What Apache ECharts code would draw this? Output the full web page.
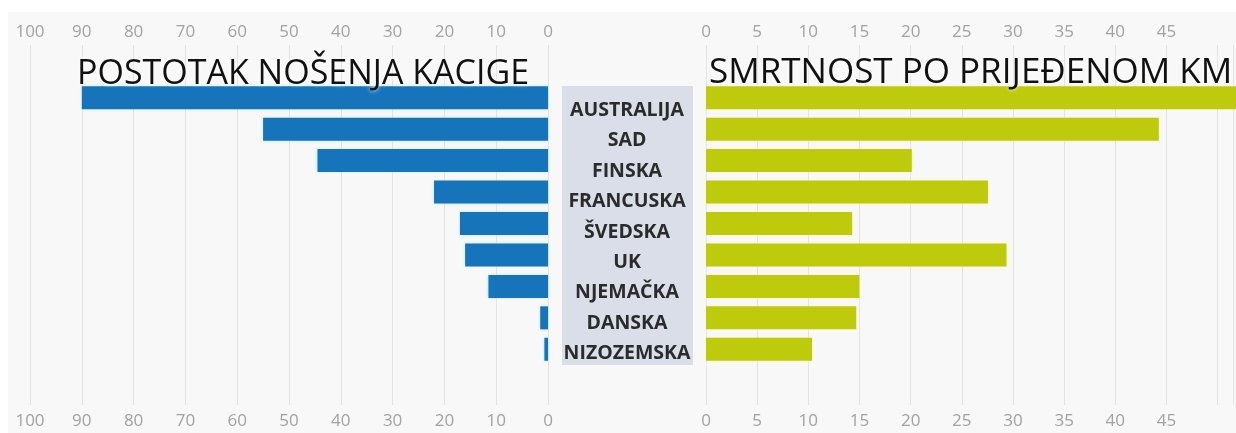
<!DOCTYPE html>
<html>
<head>
<meta charset="utf-8">
<script src="https://cdn.jsdelivr.net/npm/echarts@6/dist/echarts.min.js"></script>
<style>
html,body{margin:0;padding:0;background:#fff;}
#chart{width:1236px;height:433px;}
</style>
</head>
<body>
<div id="chart"></div>
<script>
// kategorije (od vrha prema dnu)
var countries   = ['AUSTRALIJA','SAD','FINSKA','FRANCUSKA','ŠVEDSKA','UK','NJEMAČKA','DANSKA','NIZOZEMSKA'];
// postotak nošenja kacige
var helmetPct   = [90, 55, 44.5, 22, 17, 16, 11.5, 1.5, 0.7];
// smrtnost po prijeđenom km
var deathRate   = [53, 44, 20, 27.4, 14.2, 29.2, 14.9, 14.6, 10.3];

var leftTitle   = 'POSTOTAK NOŠENJA KACIGE';
var rightTitle  = 'SMRTNOST PO PRIJEĐENOM KM';

var tickColor   = '#a2a2a2';
var gridColor   = '#e4e4e4';

var chart = echarts.init(document.getElementById('chart'));

function axisLabelStyle(margin){
    return {
        color: tickColor,
        fontFamily: 'Open Sans',
        fontSize: 17,
        margin: margin
    };
}

var option = {
    backgroundColor: '#ffffff',
    animation: false,
    graphic: [
        {type:'rect', z:-10, shape:{x:8, y:12, width:1228, height:421}, style:{fill:'#f8f8f8'}},
        {type:'rect', z:-5, shape:{x:562, y:86, width:131, height:279}, style:{fill:'#d9dee8'}}
    ],
    title: [
        {text: leftTitle, left: 72, top: 52,
         textStyle:{fontFamily:'Open Sans', fontWeight:'normal', fontSize:34, color:'#111',
                    textShadowColor:'#ffffff', textShadowBlur:4}},
        {text: rightTitle, left: 704, top: 51,
         textStyle:{fontFamily:'Open Sans', fontWeight:'normal', fontSize:35, color:'#111',
                    textShadowColor:'#ffffff', textShadowBlur:4}}
    ],
    grid: [
        {left: 30,  right: 688, top: 82, bottom: 68},   // lijevi stupci
        {left: 706, right: 0,   top: 82, bottom: 68},   // desni stupci
        {left: 30,  right: 688, top: 45, bottom: 28},   // lijeve osi
        {left: 706, right: 0,   top: 45, bottom: 28},   // desne osi
        {left: 562, width: 131, top: 95, height: 274}   // nazivi zemalja
    ],
    xAxis: [
        {gridIndex:0, type:'value', min:0, max:100, inverse:true, show:false},
        {gridIndex:1, type:'value', min:0, max:51.5, show:false},
        {gridIndex:2, type:'value', min:0, max:100, interval:10, inverse:true, position:'top',
         axisLine:{show:false}, axisTick:{show:false}, axisLabel:axisLabelStyle(4),
         splitLine:{show:true, lineStyle:{color:gridColor, width:1}}},
        {gridIndex:2, type:'value', min:0, max:100, interval:10, inverse:true, position:'bottom',
         axisLine:{show:false}, axisTick:{show:false}, axisLabel:axisLabelStyle(8),
         splitLine:{show:false}},
        {gridIndex:3, type:'value', min:0, max:51.5, interval:5, position:'top',
         axisLine:{show:false}, axisTick:{show:false},
         axisLabel:Object.assign(axisLabelStyle(4), {formatter:function(v){return v <= 45 ? v : '';}}),
         splitLine:{show:true, lineStyle:{color:gridColor, width:1}}},
        {gridIndex:3, type:'value', min:0, max:51.5, interval:5, position:'bottom',
         axisLine:{show:false}, axisTick:{show:false},
         axisLabel:Object.assign(axisLabelStyle(8), {formatter:function(v){return v <= 45 ? v : '';}}),
         splitLine:{show:false}},
        {gridIndex:4, type:'value', show:false}
    ],
    yAxis: [
        {gridIndex:0, type:'category', data:countries, inverse:true, show:false},
        {gridIndex:1, type:'category', data:countries, inverse:true, show:false},
        {gridIndex:2, type:'value', show:false},
        {gridIndex:3, type:'value', show:false},
        {gridIndex:4, type:'category', data:countries, inverse:true,
         axisLine:{show:false}, axisTick:{show:false},
         axisLabel:{align:'center', margin:-65, color:'#2b2b2b', fontFamily:'Open Sans',
                    fontWeight:'bold', fontSize:19.5}}
    ],
    series: [
        {
            name: leftTitle,
            type: 'bar',
            xAxisIndex: 0,
            yAxisIndex: 0,
            data: helmetPct,
            barWidth: 23,
            itemStyle: {color:'#1675ba', shadowColor:'rgba(160,235,255,0.9)', shadowBlur:3}
        },
        {
            name: rightTitle,
            type: 'bar',
            xAxisIndex: 1,
            yAxisIndex: 1,
            data: deathRate,
            barWidth: 23,
            clip: true,
            itemStyle: {color:'#bdcb0c', shadowColor:'rgba(255,250,170,0.9)', shadowBlur:3}
        }
    ]
};
chart.setOption(option);
</script>
</body>
</html>
